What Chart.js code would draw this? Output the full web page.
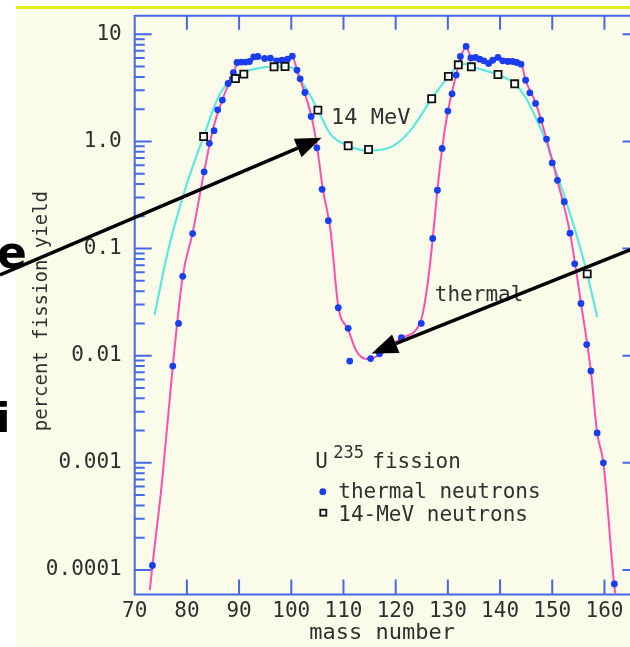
<!DOCTYPE html>
<html>
<head>
<meta charset="utf-8">
<script src="https://cdn.jsdelivr.net/npm/chart.js@4.4.1/dist/chart.umd.min.js"></script>
<style>
  html, body { margin: 0; padding: 0; background: #fff; }
  #wrap { position: relative; width: 630px; height: 647px; overflow: hidden; }
  #slide { position: absolute; left: 16px; top: 6px; right: 0; bottom: 0; background: #fbfbea; border-top: 3px solid #e3ee1c; }
  #c { position: absolute; left: 0; top: 0; }
</style>
</head>
<body>
<div id="wrap">
  <div id="slide"></div>
  <canvas id="c" width="630" height="647"></canvas>
</div>
<script>
// U-235 fission product yields (percent) against mass number
const thermalMass = [73.4, 77.3, 78.4, 79.2, 81.1, 83.3, 84.3, 85.2, 85.9, 86.8, 87.9, 88.7, 88.9, 89.6,
  90.4, 91.2, 92.0, 92.8, 93.6, 94.9, 96.0, 97.2, 98.2, 99.3, 100.2, 101.1, 101.7, 102.6, 103.8, 104.9,
  105.9, 107.1, 109.0, 110.9, 111.2, 115.2, 116.9, 121.1, 124.9, 127.1, 128.0, 128.9, 130.0, 130.8,
  131.6, 132.4, 133.5, 134.4, 135.3, 136.1, 136.9, 137.8, 138.6, 139.6, 140.5, 141.5, 142.4, 143.2,
  144.0, 144.9, 145.7, 146.8, 147.8, 148.9, 150.0, 151.0, 152.3, 153.4, 154.3, 155.5, 156.6, 157.4,
  158.6, 159.8, 161.9];
const thermalYield = [1.1e-4, 0.008, 0.020, 0.055, 0.138, 0.52, 0.96, 1.26, 1.97, 2.43, 3.47, 3.84, 4.37, 5.45,
  5.5, 5.5, 5.57, 6.16, 6.2, 5.94, 5.98, 5.65, 5.73, 5.86, 6.25, 4.63, 3.84, 2.86, 1.71, 0.87,
  0.357, 0.182, 0.028, 0.018, 0.0089, 0.0094, 0.0104, 0.0147, 0.020, 0.124, 0.35, 0.86, 1.92, 2.78,
  4.16, 6.2, 7.7, 6.0, 6.08, 5.85, 5.65, 5.33, 5.72, 6.08, 5.65, 5.57, 5.57, 5.45,
  5.26, 3.73, 2.84, 2.26, 1.58, 1.05, 0.63, 0.433, 0.274, 0.139, 0.072, 0.0307, 0.0127, 0.0072,
  0.0019, 0.001, 7.4e-5];

const mevMass = [83.2, 89.3, 90.9, 96.7, 98.8, 105.1, 110.9, 114.8, 126.9, 130.1, 132.0, 134.5, 139.6, 142.8, 156.7];
const mevYield = [1.11, 3.86, 4.25, 4.97, 5.0, 1.96, 0.91, 0.84, 2.5, 4.04, 5.19, 4.97, 4.21, 3.45, 0.058];

// fitted curves
const thermalFitMass = [72.9, 73.4, 75.2, 77.3, 79.2, 81.1, 83.3, 85.0, 87.0, 89.0, 89.8, 92.0, 94.0, 97.0,
  100.2, 101.1, 102.5, 104.0, 105.0, 106.0, 107.5, 109.0, 110.9, 112.5, 114.5, 117.0, 121.0, 124.8,
  126.2, 127.1, 128.0, 128.9, 130.0, 131.6, 132.4, 133.5, 134.5, 137.0, 140.0, 144.0, 144.9, 146.8,
  148.9, 151.0, 153.4, 155.5, 157.4, 158.6, 159.8, 161.9, 162.1];
const thermalFitYield = [6.5e-5, 1.1e-4, 6.4e-4, 0.008, 0.055, 0.14, 0.52, 1.3, 2.6, 4.4, 5.5, 5.7, 6.0, 5.8,
  6.2, 4.6, 2.9, 1.6, 0.85, 0.37, 0.15, 0.029, 0.0175, 0.011, 0.0093, 0.0102, 0.0145, 0.021,
  0.05, 0.124, 0.35, 0.86, 1.9, 4.2, 6.0, 7.7, 6.0, 5.6, 5.9, 5.4, 3.7, 2.3,
  1.05, 0.43, 0.14, 0.031, 0.0072, 0.0019, 0.001, 7e-5, 6e-5];

const mevFitMass = [73.8, 76.4, 79.6, 82.2, 83.2, 85.7, 88.0, 90.8, 93.5, 96.7, 98.8, 100.4, 102.3, 103.6,
  105.1, 107.5, 110.9, 114.8, 119.0, 122.8, 126.9, 130.1, 132.0, 133.2, 134.5, 137.0, 139.6, 142.8,
  144.9, 147.0, 148.8, 150.0, 152.2, 154.8, 156.7, 158.6];
const mevFitYield = [0.024, 0.096, 0.35, 0.82, 1.1, 2.4, 3.6, 4.4, 4.8, 5.0, 5.0, 4.8, 3.4, 2.7,
  1.96, 1.17, 0.91, 0.82, 0.88, 1.26, 2.5, 4.04, 5.1, 5.3, 5.0, 4.6, 4.2, 3.45,
  2.57, 1.6, 1.0, 0.66, 0.32, 0.127, 0.058, 0.023];

// axes
const massTicks = [70, 80, 90, 100, 110, 120, 130, 140, 150, 160];
const yieldMajorTicks = [0.0001, 0.001, 0.01, 0.1, 1, 10];
const yieldTickLabels = ['0.0001', '0.001', '0.01', '0.1', '1.0', '10'];
const minorSteps = [2, 3, 4, 5, 6, 7, 8, 9];

const MONO = "'DejaVu Sans Mono', monospace";
const INK = '#303030';
const AXIS = '#4468e8';
const DOT = '#1a3df0';
const PINK = '#ff4fb0';
const CYAN = '#5ce8e0';

const pts = (xs, ys) => xs.map((v, i) => ({ x: v, y: ys[i] }));

const yieldTicks = [];
yieldMajorTicks.forEach(v => {
  yieldTicks.push({ value: v });
  if (v < 10) minorSteps.forEach(k => yieldTicks.push({ value: v * k }));
});

// box with inward tick marks
const frame = {
  id: 'frame',
  beforeDatasetsDraw(chart) {
    const { ctx, chartArea: a, scales: { x, y } } = chart;
    ctx.save();
    ctx.strokeStyle = AXIS;
    ctx.lineWidth = 2;
    ctx.beginPath();
    ctx.moveTo(a.right + 2, a.top);
    ctx.lineTo(a.left, a.top);
    ctx.lineTo(a.left, a.bottom);
    ctx.lineTo(a.right + 2, a.bottom);
    y.ticks.forEach(t => {
      const p = y.getPixelForValue(t.value);
      const major = yieldMajorTicks.includes(t.value);
      ctx.moveTo(a.left, p);
      ctx.lineTo(a.left + (major ? 17 : 10), p);
      if (major) {
        ctx.moveTo(a.right + 2, p);
        ctx.lineTo(a.right - 7, p);
      }
    });
    x.ticks.forEach(t => {
      if (t.value === x.min) return;
      const p = x.getPixelForValue(t.value);
      ctx.moveTo(p, a.bottom);
      ctx.lineTo(p, a.bottom - 15);
      ctx.moveTo(p, a.top);
      ctx.lineTo(p, a.top + 14);
    });
    ctx.stroke();
    ctx.restore();
  }
};

function arrow(ctx, x0, y0, x1, y1) {
  const ang = Math.atan2(y1 - y0, x1 - x0);
  const len = 26, half = 10;
  const bx = x1 - len * Math.cos(ang), by = y1 - len * Math.sin(ang);
  ctx.beginPath();
  ctx.moveTo(x0, y0);
  ctx.lineTo(bx, by);
  ctx.stroke();
  ctx.beginPath();
  ctx.moveTo(x1, y1);
  ctx.lineTo(bx + half * Math.sin(ang), by - half * Math.cos(ang));
  ctx.lineTo(bx - half * Math.sin(ang), by + half * Math.cos(ang));
  ctx.closePath();
  ctx.fill();
}

// axis title, curve labels, legend box and the slide arrows
const notes = {
  id: 'notes',
  afterDraw(chart) {
    const { ctx, chartArea: a, scales: { x, y } } = chart;
    ctx.save();
    ctx.fillStyle = INK;

    ctx.save();
    ctx.translate(42, (a.top + a.bottom) / 2 + 6);
    ctx.rotate(-Math.PI / 2);
    ctx.textAlign = 'center';
    ctx.textBaseline = 'middle';
    ctx.font = '19px ' + MONO;
    ctx.fillText('percent fission yield', 0, 0);
    ctx.restore();

    ctx.textBaseline = 'alphabetic';
    ctx.font = '22px ' + MONO;
    ctx.fillText('14 MeV', x.getPixelForValue(107.6), y.getPixelForValue(1.46));
    ctx.font = '21px ' + MONO;
    ctx.fillText('thermal', x.getPixelForValue(127.5), y.getPixelForValue(0.0326));

    const lx = x.getPixelForValue(104.6), ly = y.getPixelForValue(9e-4);
    ctx.fillText('U', lx, ly);
    ctx.font = '17px ' + MONO;
    ctx.fillText('235', lx + 18, ly - 10);
    ctx.font = '21px ' + MONO;
    ctx.fillText('fission', lx + 57, ly);
    ctx.fillText('thermal neutrons', lx + 23, ly + 30);
    ctx.fillText('14-MeV neutrons', lx + 23, ly + 53);
    ctx.fillStyle = DOT;
    ctx.beginPath();
    ctx.arc(lx + 7.5, ly + 24, 3.4, 0, Math.PI * 2);
    ctx.fill();
    ctx.strokeStyle = '#111';
    ctx.lineWidth = 1.8;
    ctx.fillStyle = '#fff';
    ctx.fillRect(lx + 5, ly + 42, 6, 6);
    ctx.strokeRect(lx + 5, ly + 42, 6, 6);

    ctx.fillStyle = '#000';
    ctx.strokeStyle = '#000';
    ctx.lineWidth = 3.5;
    arrow(ctx, 0, 275, x.getPixelForValue(105.8), y.getPixelForValue(1.08));
    arrow(ctx, 632, 249, x.getPixelForValue(115.4), y.getPixelForValue(0.0105));

    ctx.font = 'bold 44px "DejaVu Sans"';
    ctx.fillText('e', -3, 268);
    ctx.font = 'bold 40px "DejaVu Sans"';
    ctx.fillText('i', -3.5, 432);
    ctx.restore();
  }
};

new Chart(document.getElementById('c'), {
  type: 'scatter',
  data: {
    datasets: [
      { label: '14-MeV neutrons', data: pts(mevMass, mevYield), order: 0, pointStyle: 'rect',
        pointRadius: 5, pointBackgroundColor: '#fff', pointBorderColor: '#111', pointBorderWidth: 1.8 },
      { label: 'thermal neutrons', data: pts(thermalMass, thermalYield), order: 1,
        pointRadius: 3.4, pointBackgroundColor: DOT, pointBorderColor: DOT, pointBorderWidth: 0 },
      { label: 'thermal fit', data: pts(thermalFitMass, thermalFitYield), order: 2, showLine: true,
        pointRadius: 0, borderColor: PINK, borderWidth: 2, cubicInterpolationMode: 'monotone' },
      { label: '14 MeV fit', data: pts(mevFitMass, mevFitYield), order: 3, showLine: true,
        pointRadius: 0, borderColor: CYAN, borderWidth: 2.2, cubicInterpolationMode: 'monotone' }
    ]
  },
  options: {
    responsive: false,
    animation: false,
    layout: { autoPadding: false, padding: { left: 0, top: 15.7, right: 0.5, bottom: 0 } },
    plugins: { legend: { display: false }, tooltip: { enabled: false } },
    scales: {
      x: {
        type: 'linear', min: 70, max: 164.8,
        afterBuildTicks: s => { s.ticks = massTicks.map(v => ({ value: v })); },
        afterFit: s => { s.height = 52.5; s.paddingLeft = 0; s.paddingRight = 0; },
        grid: { display: false, drawTicks: false },
        border: { display: false },
        ticks: { autoSkip: false, maxRotation: 0, padding: 4, color: INK, font: { family: MONO, size: 21 } },
        title: { display: true, text: 'mass number', color: INK, font: { family: MONO, size: 22 },
          padding: { top: 0, bottom: 0.8 } }
      },
      y: {
        type: 'logarithmic', min: 5.9e-5, max: 14.9,
        afterBuildTicks: s => { s.ticks = yieldTicks.map(t => ({ value: t.value })); },
        afterFit: s => { s.width = 134.7; s.paddingTop = 0; s.paddingBottom = 0; },
        grid: { display: false, drawTicks: false },
        border: { display: false },
        ticks: {
          autoSkip: false, padding: 13, color: INK, font: { family: MONO, size: 21 },
          callback: v => {
            const i = yieldMajorTicks.indexOf(v);
            return i < 0 ? '' : yieldTickLabels[i];
          }
        }
      }
    }
  },
  plugins: [frame, notes]
});
</script>
</body>
</html>
